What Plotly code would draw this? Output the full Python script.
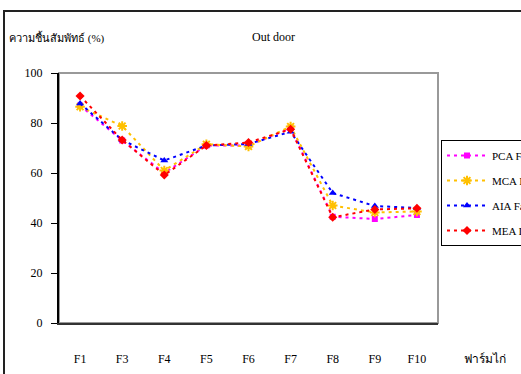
import plotly.graph_objects as go

# Relative humidity by chicken farm, outdoor measurements
farms = ["F1", "F3", "F4", "F5", "F6", "F7", "F8", "F9", "F10"]
pca = [87, 73, 60, 71, 71, 78, 42.5, 41.6, 43.2]
mca = [86.5, 78.8, 61, 71.5, 70.6, 78.6, 47, 44.2, 44.6]
aia = [87.8, 73.2, 65, 71, 71.6, 76.5, 52, 46.8, 46]
mea = [90.8, 73.2, 59.2, 71, 72.2, 77.5, 42.3, 45.4, 45.9]

series_names = ["PCA Fan", "MCA In", "AIA Fan", "MEA In"]
series_values = [pca, mca, aia, mea]
series_colors = ["#FF00FF", "#FFC000", "#0000FF", "#FF0000"]
series_symbols = ["square", "asterisk-open", "triangle-up", "diamond"]
series_sizes = [6, 8, 7, 7]

y_ticks = [0, 20, 40, 60, 80, 100]

FONT = "Liberation Serif"

fig = go.Figure()
for name, vals, col, sym, sz in zip(series_names, series_values, series_colors,
                                    series_symbols, series_sizes):
    marker = dict(symbol=sym, size=sz, color=col)
    marker["line"] = dict(color=col, width=2 if sym == "asterisk-open" else 0)
    fig.add_trace(go.Scatter(
        x=farms, y=vals, name=name, mode="lines+markers",
        line=dict(color=col, width=2, dash="3px,4px"),
        marker=marker, legendgroup=name,
    ))

L, R, T, B = 59, 83, 73, 51
W, H = 521, 374
pw, ph = W - L - R, H - T - B

def px_x(px):
    return (px - L) / pw

def px_y(py):
    return (H - B - py) / ph

shapes = [
    # plot area frame (gray top/right)
    dict(type="rect", xref="paper", yref="paper", x0=0, x1=1, y0=0, y1=1,
         line=dict(color="#999999", width=2), layer="below"),
    # outer chart border (top and left)
    dict(type="line", xref="paper", yref="paper",
         x0=px_x(3), x1=px_x(530), y0=px_y(11), y1=px_y(11),
         line=dict(color="#222222", width=2)),
    dict(type="line", xref="paper", yref="paper",
         x0=px_x(4), x1=px_x(4), y0=px_y(10), y1=px_y(380),
         line=dict(color="#222222", width=2)),
]

annotations = [
    dict(text="ความชื้นสัมพัทธ์ (%)", xref="paper", yref="paper",
         x=px_x(7), y=px_y(37), xanchor="left", yanchor="middle",
         showarrow=False, font=dict(family=FONT, size=11, color="black")),
    dict(text="Out door", xref="paper", yref="paper",
         x=px_x(273), y=px_y(37), xanchor="center", yanchor="middle",
         showarrow=False, font=dict(family=FONT, size=12, color="black")),
    dict(text="ฟาร์มไก่", xref="paper", yref="paper",
         x=px_x(462), y=px_y(359), xanchor="left", yanchor="middle",
         showarrow=False, font=dict(family=FONT, size=12, color="black")),
]

fig.update_layout(
    width=W, height=H,
    margin=dict(l=L, r=R, t=T, b=B, autoexpand=False),
    paper_bgcolor="white", plot_bgcolor="white",
    font=dict(family=FONT, size=12, color="black"),
    showlegend=True,
    legend=dict(x=px_x(441), y=px_y(140), xanchor="left", yanchor="top",
                bordercolor="black", borderwidth=1, bgcolor="white",
                font=dict(family=FONT, size=11, color="black"),
                tracegroupgap=6, itemwidth=40),
    shapes=shapes, annotations=annotations,
    xaxis=dict(type="category", range=[-0.5, len(farms) - 0.5],
               showgrid=False, zeroline=False, showline=True,
               linecolor="#333333", linewidth=2, ticks="",
               ticklabelstandoff=24, tickfont=dict(family=FONT, size=12)),
    yaxis=dict(range=[0, 100], tickvals=y_ticks, showgrid=False,
               zeroline=False, showline=True, linecolor="black", linewidth=2,
               ticks="outside", ticklen=6, tickcolor="black", tickwidth=1,
               ticklabelstandoff=6, tickfont=dict(family=FONT, size=12)),
    # inner half of the cross ticks on the value axis
    yaxis2=dict(overlaying="y", matches="y", side="left", tickvals=y_ticks,
                ticks="inside", ticklen=5, tickcolor="black", tickwidth=1,
                showticklabels=False, showgrid=False, zeroline=False,
                showline=False),
)

fig.write_html("out.html")
